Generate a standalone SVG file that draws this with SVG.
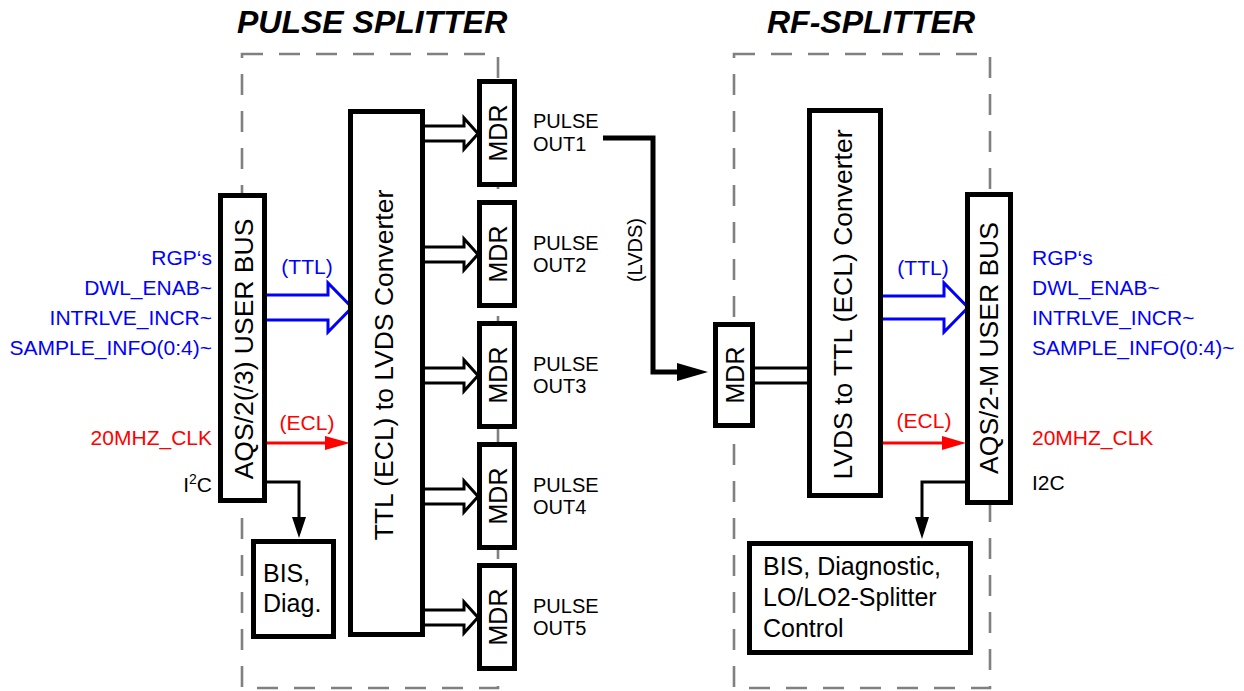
<svg xmlns="http://www.w3.org/2000/svg" width="1244" height="691" viewBox="0 0 1244 691">
<style>
text{font-family:"Liberation Sans",Arial,Helvetica,sans-serif;}
.title{font-size:32px;font-weight:bold;font-style:italic;fill:#000;}
.frame{fill:none;stroke:#808080;stroke-width:2.6;stroke-dasharray:21 16;}
.box{fill:#fff;stroke:#000;stroke-width:5;}
.vt{font-size:26.5px;fill:#000;text-anchor:middle;}
.mdr{font-size:25px;fill:#000;text-anchor:middle;}
.bt{font-size:25px;fill:#000;}
.po{font-size:20px;fill:#000;}
.lbl{font-size:21px;}
.blue{fill:#0000ff;}
.red{fill:#ff0000;}
.blk{fill:#000;}
.hollow{fill:#fff;stroke:#000;stroke-width:3;}
.hollowb{fill:#fff;stroke:#0000ff;stroke-width:3;}
.wire{fill:none;stroke:#000;stroke-width:3;}
</style>
<defs>
<g id="mdrArrow"><path class="hollow" d="M425,47 H464 V39 L478,54.5 L464,70 V62 H425"/></g>
</defs>

<text class="title" x="237" y="33">PULSE SPLITTER</text>
<text class="title" x="767" y="33">RF-SPLITTER</text>

<rect class="frame" x="242" y="54" width="256" height="634"/>
<rect class="frame" x="734" y="54" width="256" height="634"/>

<g id="connectors">
  <use href="#mdrArrow" transform="translate(0,79)"/>
  <use href="#mdrArrow" transform="translate(0,200)"/>
  <use href="#mdrArrow" transform="translate(0,321)"/>
  <use href="#mdrArrow" transform="translate(0,442)"/>
  <use href="#mdrArrow" transform="translate(0,563)"/>
  <path class="hollowb" d="M267,295 H328 V283 L352,307.5 L328,332 V320 H267"/>
  <line x1="267" y1="443" x2="328" y2="443" stroke="#ff0000" stroke-width="3"/>
  <polygon points="325,436 350,443 325,450" fill="#ff0000"/>
  <path class="wire" d="M267,482 H299 V518"/>
  <polygon points="292,517 306,517 299,538" fill="#000"/>
  <path d="M603,138 H653 V372 H680" fill="none" stroke="#000" stroke-width="5"/>
  <polygon points="677,363 708,372 677,381" fill="#000"/>
  <text class="po" transform="translate(642,250) rotate(-90)" text-anchor="middle">(LVDS)</text>
  <line x1="755" y1="368" x2="808" y2="368" stroke="#000" stroke-width="3"/>
  <line x1="755" y1="383" x2="808" y2="383" stroke="#000" stroke-width="3"/>
  <path class="hollowb" d="M882,296 H944 V283 L968,307.5 L944,332 V319 H882"/>
  <line x1="882" y1="443" x2="944" y2="443" stroke="#ff0000" stroke-width="3"/>
  <polygon points="942,436 966,443 942,450" fill="#ff0000"/>
  <path class="wire" d="M965,482 H922 V518"/>
  <polygon points="915,517 929,517 922,539" fill="#000"/>
</g>

<g id="left-labels" class="lbl" text-anchor="end">
  <text class="blue" x="212" y="265">RGP‘s</text>
  <text class="blue" x="212" y="295">DWL_ENAB~</text>
  <text class="blue" x="212" y="325">INTRLVE_INCR~</text>
  <text class="blue" x="212" y="355">SAMPLE_INFO(0:4)~</text>
  <text class="blue" x="307" y="274" text-anchor="middle">(TTL)</text>
  <text class="red" x="212" y="445">20MHZ_CLK</text>
  <text class="red" x="307" y="430" text-anchor="middle">(ECL)</text>
  <text class="blk" x="212" y="492">I<tspan font-size="14" dy="-8">2</tspan><tspan dy="8">C</tspan></text>
</g>

<g id="right-labels" class="lbl">
  <text class="blue" x="1032" y="265">RGP‘s</text>
  <text class="blue" x="1032" y="295">DWL_ENAB~</text>
  <text class="blue" x="1032" y="325">INTRLVE_INCR~</text>
  <text class="blue" x="1032" y="355">SAMPLE_INFO(0:4)~</text>
  <text class="blue" x="923" y="275" text-anchor="middle">(TTL)</text>
  <text class="red" x="1032" y="445">20MHZ_CLK</text>
  <text class="red" x="924" y="428" text-anchor="middle">(ECL)</text>
  <text class="blk" x="1032" y="490">I2C</text>
</g>

<g id="aqs-left">
  <rect class="box" x="220.5" y="195.5" width="44" height="305"/>
  <text class="vt" transform="translate(253,349) rotate(-90)">AQS/2(/3) USER BUS</text>
</g>
<g id="conv-left">
  <rect class="box" x="350.5" y="111.5" width="72" height="523"/>
  <text class="vt" transform="translate(393,365) rotate(-90)">TTL (ECL) to LVDS Converter</text>
</g>
<g id="bis-left">
  <rect class="box" x="253.5" y="541.5" width="80" height="95"/>
  <text class="bt" x="263" y="582">BIS,</text>
  <text class="bt" x="263" y="612">Diag.</text>
</g>
<g id="mdr1">
  <rect class="box" x="479.5" y="81.5" width="35" height="103"/>
  <text class="mdr" transform="translate(506.5,133) rotate(-90)">MDR</text>
  <text class="po" x="533" y="128">PULSE</text><text class="po" x="533" y="151">OUT1</text>
</g>
<g id="mdr2">
  <rect class="box" x="479.5" y="202.5" width="35" height="103"/>
  <text class="mdr" transform="translate(506.5,254) rotate(-90)">MDR</text>
  <text class="po" x="533" y="249.5">PULSE</text><text class="po" x="533" y="272">OUT2</text>
</g>
<g id="mdr3">
  <rect class="box" x="479.5" y="323.5" width="35" height="103"/>
  <text class="mdr" transform="translate(506.5,375) rotate(-90)">MDR</text>
  <text class="po" x="533" y="370.5">PULSE</text><text class="po" x="533" y="393">OUT3</text>
</g>
<g id="mdr4">
  <rect class="box" x="479.5" y="444.5" width="35" height="103"/>
  <text class="mdr" transform="translate(506.5,496) rotate(-90)">MDR</text>
  <text class="po" x="533" y="491.5">PULSE</text><text class="po" x="533" y="514">OUT4</text>
</g>
<g id="mdr5">
  <rect class="box" x="479.5" y="565.5" width="35" height="103"/>
  <text class="mdr" transform="translate(506.5,617) rotate(-90)">MDR</text>
  <text class="po" x="533" y="612.5">PULSE</text><text class="po" x="533" y="635">OUT5</text>
</g>

<g id="mdr-rf">
  <rect class="box" x="715.5" y="324.5" width="37" height="101"/>
  <text class="mdr" transform="translate(743.5,375) rotate(-90)">MDR</text>
</g>
<g id="conv-right">
  <rect class="box" x="809.5" y="110.5" width="71" height="385"/>
  <text class="vt" transform="translate(852,304.5) rotate(-90)">LVDS to TTL (ECL) Converter</text>
</g>
<g id="aqs-right">
  <rect class="box" x="967.5" y="194.5" width="43" height="308"/>
  <text class="vt" transform="translate(998,348) rotate(-90)">AQS/2-M USER BUS</text>
</g>
<g id="bis-right">
  <rect class="box" x="749.5" y="543.5" width="221" height="109"/>
  <text class="bt" x="763" y="575">BIS, Diagnostic,</text>
  <text class="bt" x="763" y="606">LO/LO2-Splitter</text>
  <text class="bt" x="763" y="637">Control</text>
</g>
</svg>
